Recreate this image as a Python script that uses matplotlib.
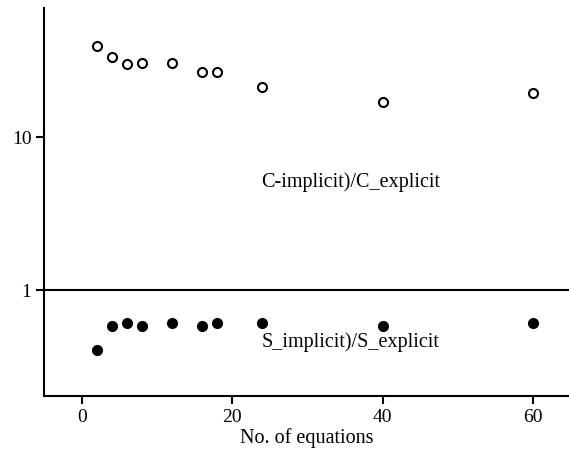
import numpy as np
import matplotlib.pyplot as plt
from matplotlib.ticker import FixedLocator, NullLocator, FixedFormatter

plt.rcParams['font.family'] = ['Liberation Serif', 'DejaVu Serif']

# number of equations
n_eq = [2, 4, 6, 8, 12, 16, 18, 24, 40, 60]
# C_implicit / C_explicit
c_ratio = [39.3, 33.4, 30.0, 30.5, 30.5, 26.6, 26.6, 21.2, 16.9, 19.4]
# S_implicit / S_explicit
s_ratio = [0.405, 0.582, 0.608, 0.582, 0.608, 0.582, 0.608, 0.608, 0.582, 0.608]

fig = plt.figure(figsize=(5.69, 4.5), dpi=100)
ax = fig.add_axes([44 / 569, 1 - 396 / 450, (569 - 44) / 569, (396 - 8) / 450])

ax.plot(n_eq, c_ratio, 'o', mfc='white', mec='black', mew=1.5, ms=6.5, ls='none')
ax.plot(n_eq, s_ratio, 'o', mfc='black', mec='black', ms=7, ls='none')
ax.axhline(1, color='black', lw=1.5)

ax.set_yscale('log')
ax.set_xlim(-5.05, 64.8)
ax.set_ylim(0.203, 69.7)
ax.yaxis.set_major_locator(FixedLocator([1, 10]))
ax.yaxis.set_major_formatter(FixedFormatter(['1', '10']))
ax.yaxis.set_minor_locator(NullLocator())
ax.set_xticks([0, 20, 40, 60])

for side in ['top', 'right']:
    ax.spines[side].set_visible(False)
for side in ['left', 'bottom']:
    ax.spines[side].set_linewidth(1.5)
ax.tick_params(direction='out', length=6, width=1.5, labelsize=14, pad=3)

ax.text(35.8, 5.1, 'C-implicit)/C_explicit', ha='center', va='center', fontsize=14.5)
ax.text(35.8, 0.455, 'S_implicit)/S_explicit', ha='center', va='center', fontsize=14.5)
ax.set_xlabel('No. of equations', fontsize=14.5, labelpad=2)

fig.savefig('out.png', dpi=100)
